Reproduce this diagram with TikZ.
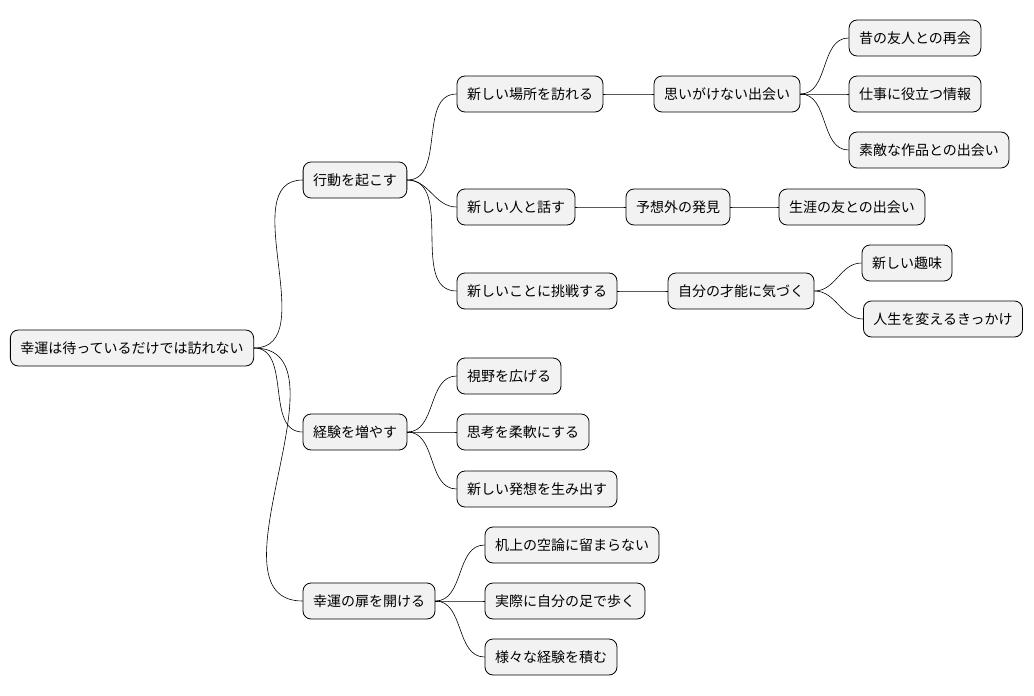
\documentclass[tikz,border=0pt]{standalone}
\usepackage{fontspec}
\setmainfont{Noto Sans CJK JP}
\begin{document}
\begin{tikzpicture}[x=1pt, y=-1pt,
    topic/.style={draw=black, fill=gray!10, rounded corners=8pt, line width=0.8pt,
        minimum height=36pt, inner xsep=10pt, font=\fontsize{14}{16}\selectfont},
    link/.style={line width=0.6pt}]
    \useasboundingbox (0,0) rectangle (1034,696);

    % Root and first level
    \node[topic] (root) at (132,348) {幸運は待っているだけでは訪れない};
    \node[topic] (act) at (355,180) {行動を起こす};
    \node[topic] (exp) at (355,432) {経験を増やす};
    \node[topic] (door) at (369,601) {幸運の扉を開ける};

    % Under act
    \node[topic] (place) at (530,94) {新しい場所を訪れる};
    \node[topic] (talk) at (516,207) {新しい人と話す};
    \node[topic] (try) at (537,291) {新しいことに挑戦する};
    \node[topic] (meet) at (727,94) {思いがけない出会い};
    \node[topic] (find) at (678,207) {予想外の発見};
    \node[topic] (talent) at (741,291) {自分の才能に気づく};
    \node[topic] (old) at (915,38) {昔の友人との再会};
    \node[topic] (info) at (915,94) {仕事に役立つ情報};
    \node[topic] (work) at (929,150) {素敵な作品との出会い};
    \node[topic] (friend) at (852,207) {生涯の友との出会い};
    \node[topic] (hobby) at (907,263) {新しい趣味};
    \node[topic] (chance) at (943,319) {人生を変えるきっかけ};

    % Under exp
    \node[topic] (view) at (509,376) {視野を広げる};
    \node[topic] (flex) at (523,432) {思考を柔軟にする};
    \node[topic] (idea) at (537,489) {新しい発想を生み出す};

    % Under door
    \node[topic] (desk) at (572,545) {机上の空論に留まらない};
    \node[topic] (walk) at (565,601) {実際に自分の足で歩く};
    \node[topic] (many) at (551,657) {様々な経験を積む};

    % Connectors
    \foreach \a/\b in {root/act, root/exp, root/door,
        act/place, act/talk, act/try, place/meet, talk/find, try/talent,
        meet/old, meet/info, meet/work, find/friend, talent/hobby, talent/chance,
        exp/view, exp/flex, exp/idea, door/desk, door/walk, door/many} {
        \draw[link] (\a.east) to[out=0, in=180] (\b.west);
    }

\end{tikzpicture}
\end{document}
